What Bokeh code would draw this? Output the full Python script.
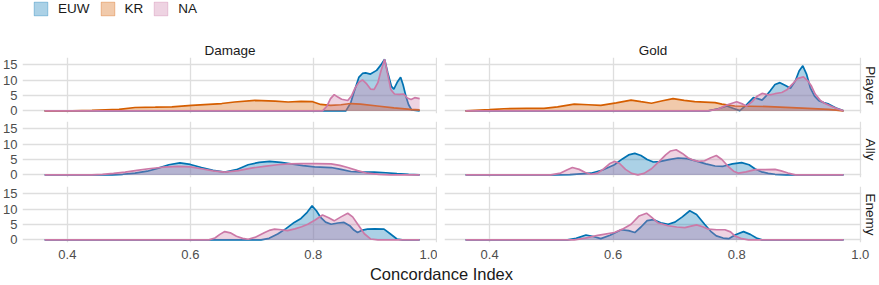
from bokeh.plotting import figure
from bokeh.layouts import column, row
from bokeh.models import Range1d, FixedTicker, Title, Label, Legend, LegendItem
from bokeh.embed import file_html
from bokeh.resources import INLINE

# ---------------- data ----------------
regions = ["EUW", "KR", "NA"]
region_colors = ["#0072B2", "#D55E00", "#CC79A7"]
row_labels = ["Player", "Ally", "Enemy"]
col_labels = ["Damage", "Gold"]
x_ticks = [0.4, 0.6, 0.8, 1.0]
x_tick_labels = ["0.4", "0.6", "0.8", "1.0"]
y_ticks = [0, 5, 10, 15]
y_tick_labels = ["0", "5", "10", "15"]
x_axis_title = "Concordance Index"

# Player / Damage
player_damage_euw_x = [0.363, 0.853, 0.861, 0.866, 0.874, 0.880, 0.885, 0.893, 0.903, 0.910, 0.916, 0.921, 0.927, 0.931, 0.937, 0.942, 0.946, 0.951, 0.955, 0.960, 0.973]
player_damage_euw_y = [0, 0, 2.7, 6.0, 10.9, 12.2, 12.4, 12.0, 13.2, 15.0, 16.8, 12.5, 8.0, 7.1, 9.5, 11.0, 8.5, 4.5, 2.0, 0.3, 0]
player_damage_kr_x = [0.363, 0.408, 0.440, 0.484, 0.510, 0.543, 0.570, 0.602, 0.651, 0.672, 0.705, 0.738, 0.759, 0.780, 0.799, 0.812, 0.828, 0.845, 0.861, 0.877, 0.904, 0.931, 0.958, 0.973]
player_damage_kr_y = [0, 0.05, 0.2, 0.5, 1.1, 1.2, 1.3, 1.8, 2.4, 2.9, 3.4, 3.2, 2.9, 3.1, 3.0, 2.1, 1.8, 2.0, 2.4, 2.2, 1.6, 1.0, 0.5, 0.3]
player_damage_na_x = [0.363, 0.815, 0.822, 0.828, 0.834, 0.840, 0.846, 0.856, 0.862, 0.868, 0.874, 0.880, 0.886, 0.893, 0.899, 0.905, 0.910, 0.916, 0.921, 0.926, 0.932, 0.940, 0.947, 0.953, 0.959, 0.965, 0.973]
player_damage_na_y = [0, 0, 1.5, 4.0, 5.3, 4.5, 3.8, 3.4, 4.8, 7.5, 9.3, 10.1, 9.0, 7.1, 7.0, 9.2, 13.0, 16.8, 12.0, 7.0, 5.5, 5.4, 5.5, 4.2, 3.7, 4.3, 4.0]

# Player / Gold
player_gold_euw_x = [0.361, 0.754, 0.770, 0.784, 0.795, 0.805, 0.815, 0.827, 0.834, 0.841, 0.848, 0.854, 0.862, 0.870, 0.879, 0.887, 0.895, 0.901, 0.907, 0.913, 0.919, 0.926, 0.933, 0.941, 0.949, 0.960, 0.973]
player_gold_euw_y = [0, 0, 0.7, 1.6, 0.8, 0.1, 1.8, 4.3, 4.0, 3.5, 5.0, 6.5, 8.6, 9.2, 8.3, 7.4, 9.8, 13.0, 14.7, 12.0, 7.6, 4.8, 3.3, 2.7, 2.2, 1.0, 0]
player_gold_kr_x = [0.361, 0.400, 0.423, 0.460, 0.488, 0.510, 0.537, 0.560, 0.580, 0.605, 0.629, 0.645, 0.662, 0.680, 0.697, 0.715, 0.732, 0.765, 0.776, 0.797, 0.852, 0.906, 0.949, 0.973]
player_gold_kr_y = [0, 0.4, 0.7, 0.8, 0.8, 1.3, 2.2, 2.0, 1.8, 2.6, 3.5, 3.0, 2.5, 3.3, 4.0, 3.4, 3.0, 2.7, 2.2, 1.6, 1.4, 0.9, 0.5, 0]
player_gold_na_x = [0.361, 0.754, 0.770, 0.785, 0.800, 0.810, 0.816, 0.825, 0.833, 0.841, 0.848, 0.854, 0.862, 0.873, 0.882, 0.890, 0.898, 0.908, 0.915, 0.921, 0.927, 0.936, 0.943, 0.952, 0.962, 0.973]
player_gold_na_y = [0, 0, 0.6, 2.0, 3.0, 2.2, 1.6, 3.0, 4.8, 5.7, 5.4, 5.2, 5.6, 6.0, 7.0, 8.7, 10.5, 11.1, 9.8, 8.1, 5.5, 3.3, 2.4, 1.6, 0.8, 0]

# Ally / Damage
ally_damage_euw_x = [0.363, 0.473, 0.490, 0.510, 0.530, 0.548, 0.565, 0.583, 0.600, 0.618, 0.637, 0.656, 0.675, 0.694, 0.712, 0.729, 0.747, 0.764, 0.783, 0.802, 0.829, 0.845, 0.861, 0.880, 0.899, 0.918, 0.936, 0.955, 0.973]
ally_damage_euw_y = [0, 0, 0.2, 0.55, 1.2, 2.2, 3.3, 3.9, 3.4, 2.4, 1.5, 0.9, 1.7, 3.3, 4.1, 4.4, 4.1, 3.6, 3.0, 2.6, 2.4, 1.8, 1.1, 0.9, 0.9, 0.7, 0.4, 0.15, 0]
ally_damage_na_x = [0.363, 0.440, 0.457, 0.475, 0.494, 0.513, 0.532, 0.555, 0.580, 0.600, 0.618, 0.637, 0.656, 0.678, 0.699, 0.720, 0.742, 0.760, 0.780, 0.805, 0.829, 0.843, 0.856, 0.872, 0.888, 0.907, 0.926, 0.973]
ally_damage_na_y = [0, 0, 0.2, 0.5, 0.9, 1.5, 2.0, 2.5, 2.8, 2.6, 2.0, 1.3, 0.9, 1.4, 2.2, 2.8, 3.3, 3.6, 3.7, 3.7, 3.6, 3.1, 2.4, 1.4, 0.55, 0.15, 0, 0]

# Ally / Gold
ally_gold_euw_x = [0.361, 0.504, 0.530, 0.564, 0.583, 0.602, 0.615, 0.625, 0.635, 0.645, 0.655, 0.665, 0.675, 0.690, 0.705, 0.720, 0.735, 0.750, 0.765, 0.778, 0.793, 0.808, 0.820, 0.830, 0.840, 0.851, 0.862, 0.880, 0.973]
ally_gold_euw_y = [0, 0, 0.1, 0.55, 1.6, 3.3, 5.2, 6.5, 7.0, 6.3, 5.0, 4.2, 4.3, 5.0, 5.5, 5.3, 4.5, 3.6, 2.9, 2.8, 3.6, 4.0, 3.3, 1.9, 1.0, 0.5, 0.2, 0, 0]
ally_gold_na_x = [0.361, 0.499, 0.515, 0.525, 0.534, 0.545, 0.555, 0.564, 0.575, 0.585, 0.594, 0.602, 0.610, 0.620, 0.630, 0.640, 0.650, 0.662, 0.675, 0.685, 0.693, 0.702, 0.712, 0.721, 0.730, 0.738, 0.748, 0.758, 0.767, 0.776, 0.786, 0.795, 0.803, 0.815, 0.830, 0.846, 0.862, 0.872, 0.883, 0.895, 0.973]
ally_gold_na_y = [0, 0, 0.6, 1.6, 2.4, 1.8, 0.8, 0.2, 0.6, 2.0, 3.6, 4.4, 3.8, 1.8, 0.5, 0, 0.5, 2.0, 4.5, 6.5, 7.8, 8.2, 7.0, 5.6, 4.8, 4.4, 4.6, 5.6, 6.3, 5.0, 2.8, 1.2, 0.55, 1.0, 1.7, 1.7, 1.8, 1.3, 0.6, 0, 0]

# Enemy / Damage
enemy_damage_euw_x = [0.363, 0.715, 0.728, 0.742, 0.755, 0.769, 0.780, 0.790, 0.798, 0.805, 0.812, 0.820, 0.829, 0.840, 0.850, 0.860, 0.866, 0.872, 0.880, 0.888, 0.900, 0.915, 0.925, 0.936, 0.945, 0.973]
enemy_damage_euw_y = [0, 0, 0.5, 1.9, 3.6, 5.7, 7.0, 9.0, 11.1, 9.5, 7.3, 5.8, 5.1, 5.5, 5.7, 4.5, 3.2, 2.4, 3.2, 3.5, 3.6, 3.5, 2.0, 0.3, 0, 0]
enemy_damage_na_x = [0.363, 0.630, 0.640, 0.648, 0.656, 0.665, 0.675, 0.685, 0.694, 0.705, 0.713, 0.721, 0.730, 0.737, 0.748, 0.758, 0.770, 0.781, 0.791, 0.803, 0.815, 0.825, 0.834, 0.845, 0.856, 0.864, 0.874, 0.883, 0.893, 0.905, 0.973]
enemy_damage_na_y = [0, 0, 0.6, 1.8, 2.7, 2.3, 1.2, 0.5, 0.2, 0.8, 1.6, 2.4, 3.2, 3.5, 3.3, 3.0, 3.6, 4.3, 5.1, 6.5, 8.1, 7.2, 6.2, 7.5, 8.7, 7.5, 4.6, 2.0, 0.3, 0, 0]

# Enemy / Gold
enemy_gold_euw_x = [0.361, 0.526, 0.540, 0.556, 0.568, 0.580, 0.595, 0.613, 0.625, 0.635, 0.645, 0.655, 0.665, 0.677, 0.689, 0.700, 0.712, 0.724, 0.735, 0.748, 0.758, 0.767, 0.778, 0.787, 0.798, 0.811, 0.822, 0.832, 0.841, 0.973]
enemy_gold_euw_y = [0, 0, 0.5, 1.6, 1.1, 0.4, 1.5, 3.3, 3.0, 2.4, 4.2, 6.3, 6.6, 5.6, 5.1, 5.8, 7.5, 9.5, 8.3, 5.1, 2.8, 1.3, 0.6, 0.4, 1.7, 2.7, 1.8, 0.6, 0, 0]
enemy_gold_na_x = [0.361, 0.537, 0.555, 0.575, 0.602, 0.615, 0.629, 0.642, 0.654, 0.662, 0.672, 0.689, 0.703, 0.716, 0.726, 0.735, 0.745, 0.754, 0.768, 0.781, 0.790, 0.797, 0.808, 0.819, 0.973]
enemy_gold_na_y = [0, 0, 0.6, 1.5, 2.4, 3.5, 5.1, 7.8, 8.7, 7.4, 5.6, 4.6, 4.2, 4.0, 4.5, 4.9, 4.3, 3.5, 3.3, 3.3, 2.6, 1.3, 0.4, 0, 0]

densities = {
    ("Player", "Damage"): {"EUW": (player_damage_euw_x, player_damage_euw_y),
                           "KR": (player_damage_kr_x, player_damage_kr_y),
                           "NA": (player_damage_na_x, player_damage_na_y)},
    ("Player", "Gold"): {"EUW": (player_gold_euw_x, player_gold_euw_y),
                         "KR": (player_gold_kr_x, player_gold_kr_y),
                         "NA": (player_gold_na_x, player_gold_na_y)},
    ("Ally", "Damage"): {"EUW": (ally_damage_euw_x, ally_damage_euw_y),
                         "NA": (ally_damage_na_x, ally_damage_na_y)},
    ("Ally", "Gold"): {"EUW": (ally_gold_euw_x, ally_gold_euw_y),
                       "NA": (ally_gold_na_x, ally_gold_na_y)},
    ("Enemy", "Damage"): {"EUW": (enemy_damage_euw_x, enemy_damage_euw_y),
                          "NA": (enemy_damage_na_x, enemy_damage_na_y)},
    ("Enemy", "Gold"): {"EUW": (enemy_gold_euw_x, enemy_gold_euw_y),
                        "NA": (enemy_gold_na_x, enemy_gold_na_y)},
}

# ---------------- styling ----------------
FONT = "Liberation Sans"
FILL_ALPHA = 0.33
LINE_W = 1.7
GRID_COLOR = "#DEDEDE"
X_RANGE = (0.327, 1.002)
Y_RANGE = (-0.85, 17.4)
FRAME_H = 56
NAN = float("nan")


def style_common(p):
    p.outline_line_color = None
    p.background_fill_color = "white"
    p.border_fill_color = "white"
    p.xgrid.ticker = FixedTicker(ticks=x_ticks)
    p.ygrid.ticker = FixedTicker(ticks=y_ticks)
    for g in (p.xgrid, p.ygrid):
        g.grid_line_color = GRID_COLOR
        g.grid_line_width = 1.3
        g.minor_grid_line_color = None


def style_axis(ax):
    ax.axis_line_color = None
    ax.major_tick_line_color = None
    ax.minor_tick_line_color = None
    ax.major_tick_out = 0
    ax.major_tick_in = 0
    ax.minor_tick_out = 0
    ax.minor_tick_in = 0
    ax.axis_label_standoff = 0
    ax.major_label_text_font = FONT
    ax.major_label_text_font_size = "13px"
    ax.major_label_text_color = "#4D4D4D"


def make_panel(ri, ci):
    rname = row_labels[ri]
    cname = col_labels[ci]
    is_left = ci == 0
    is_top = ri == 0
    is_bottom = ri == len(row_labels) - 1
    top_b = 38 if is_top else 0
    bot_b = 30 if is_bottom else (8 if is_top else 9)
    p = figure(width=437 if is_left else 442,
               height=top_b + FRAME_H + bot_b,
               x_range=Range1d(*X_RANGE), y_range=Range1d(*Y_RANGE),
               x_axis_location="below" if is_bottom else None,
               y_axis_location="left" if is_left else None,
               min_border_left=20 if is_left else 7,
               min_border_right=0 if is_left else 18,
               min_border_top=top_b, min_border_bottom=bot_b,
               toolbar_location=None, output_backend="svg")
    style_common(p)
    if is_bottom:
        p.xaxis.ticker = FixedTicker(ticks=x_ticks)
        p.xaxis.major_label_overrides = dict(zip(x_ticks, x_tick_labels))
        p.xaxis.major_label_standoff = 7
        style_axis(p.xaxis[0])
    if is_left:
        p.yaxis.ticker = FixedTicker(ticks=y_ticks)
        p.yaxis.major_label_overrides = dict(zip(y_ticks, y_tick_labels))
        p.yaxis.major_label_standoff = 5
        style_axis(p.yaxis[0])
    if is_top:
        p.title.text = cname
        p.title.align = "center"
        p.title.text_font = FONT
        p.title.text_font_size = "13.5px"
        p.title.text_font_style = "normal"
        p.title.text_color = "#1A1A1A"
        p.title.standoff = 0
    if not is_left:
        t = Title(text=rname, align="center", vertical_align="middle",
                  text_font=FONT, text_font_size="13.5px",
                  text_font_style="normal", text_color="#1A1A1A", standoff=0)
        p.add_layout(t, "right")
    series = densities[(rname, cname)]
    for reg, col in zip(regions, region_colors):
        if reg not in series:
            continue
        xs, ys = series[reg]
        p.varea(x=xs, y1=[0] * len(xs), y2=ys, fill_color=col, fill_alpha=FILL_ALPHA)
        p.line(x=xs, y=ys, line_color=col, line_width=LINE_W)
    return p


# legend strip (one undrawn NaN row per key so the legend swatch is rendered)
leg = figure(width=260, height=19, x_range=Range1d(0, 1), y_range=Range1d(0, 1),
             x_axis_location=None, y_axis_location=None,
             min_border_left=32, min_border_right=0, min_border_top=0, min_border_bottom=0,
             toolbar_location=None, output_backend="svg")
leg.xgrid.visible = False
leg.ygrid.visible = False
leg.outline_line_color = None
items = []
for reg, col in zip(regions, region_colors):
    rr = leg.quad(left=[NAN], right=[NAN], top=[NAN], bottom=[NAN], fill_color=col,
                  fill_alpha=FILL_ALPHA, line_color=col, line_alpha=0.35, line_width=1)
    items.append(LegendItem(label=reg, renderers=[rr]))
legend = Legend(items=items, orientation="horizontal", location="top_left",
                glyph_width=17, glyph_height=17, label_height=17, label_width=0,
                label_standoff=9, spacing=9, padding=0, margin=0,
                border_line_color=None, background_fill_alpha=0,
                label_text_font=FONT, label_text_font_size="13.5px",
                label_text_color="#1A1A1A")
leg.add_layout(legend)

# x-axis title strip (pulled up over the empty lower part of the bottom panels)
xt = figure(width=879, height=24, x_range=Range1d(0, 1), y_range=Range1d(0, 1),
            x_axis_location=None, y_axis_location=None,
            min_border_left=14, min_border_right=29, min_border_top=0, min_border_bottom=0,
            toolbar_location=None, output_backend="svg", margin=(-11, 0, 0, 0))
xt.xgrid.visible = False
xt.ygrid.visible = False
xt.outline_line_color = None
xt.background_fill_color = None
xt.border_fill_color = None
xt.add_layout(Label(x=0.5, y=0.46, text=x_axis_title, text_align="center",
                    text_baseline="middle", text_font=FONT,
                    text_font_size="16.5px", text_color="#1A1A1A"))

left_col = column(*[make_panel(ri, 0) for ri in range(3)])
right_col = column(*[make_panel(ri, 1) for ri in range(3)])
layout = column(leg, row(left_col, right_col), xt)

open("out.html", "w").write(file_html(layout, INLINE))
